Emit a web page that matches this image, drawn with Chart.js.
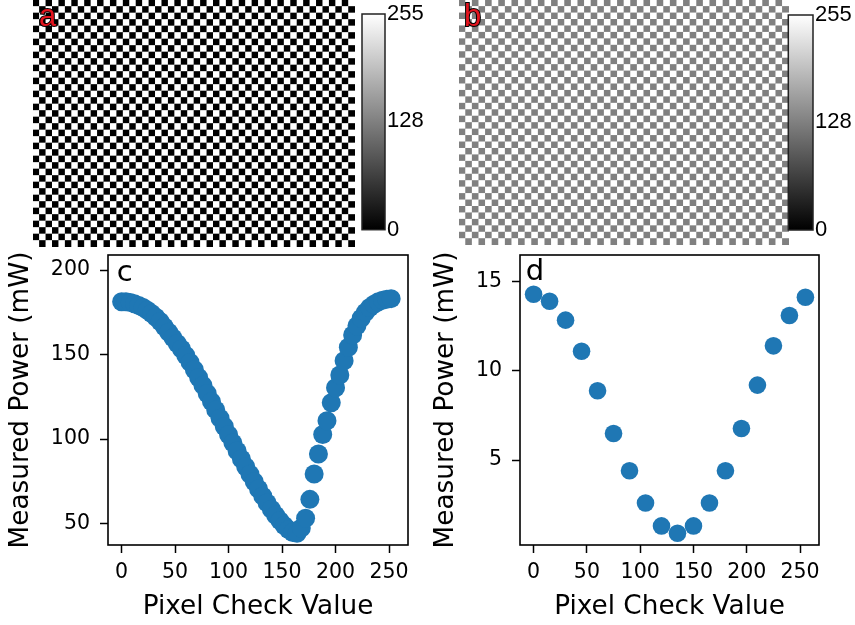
<!DOCTYPE html>
<html>
<head>
<meta charset="utf-8">
<script src="https://cdn.jsdelivr.net/npm/chart.js@4.4.1/dist/chart.umd.min.js"></script>
<style>
  html, body { margin: 0; padding: 0; background: #fff; }
  body { width: 855px; height: 625px; position: relative; overflow: hidden; }
  canvas { position: absolute; }
</style>
</head>
<body>
<canvas id="img-a" width="430" height="250" style="left:0;top:0"></canvas>
<canvas id="cbar-a" width="90" height="250" style="left:340px;top:0"></canvas>
<canvas id="img-b" width="430" height="250" style="left:430px;top:0"></canvas>
<canvas id="cbar-b" width="90" height="250" style="left:768px;top:0"></canvas>
<canvas id="chart-c" width="425" height="375" style="left:0;top:250px"></canvas>
<canvas id="chart-d" width="425" height="375" style="left:430px;top:250px"></canvas>
<script>
// Damier (motifs a et b)
const nCols = 50;
const nRows = 38;
const levelsA = [0, 255];
const levelsB = [128, 255];

// Barre de couleur
const cbarRange = [0, 255];
const cbarTicks = [0, 128, 255];

// Panneau c : balayage fin
const cX = [0, 4, 8, 12, 16, 20, 24, 28, 32, 36, 40, 44, 48, 52, 56, 60,
  64, 68, 72, 76, 80, 84, 88, 92, 96, 100, 104, 108, 112, 116, 120, 124,
  128, 132, 136, 140, 144, 148, 152, 156, 160, 164, 168, 172, 176, 180, 184, 188,
  192, 196, 200, 204, 208, 212, 216, 220, 224, 228, 232, 236, 240, 244, 248, 252];
const cY = [181.3, 181.2, 180.8, 180.0, 179.0, 177.8, 176.2, 174.3, 172.1, 169.6, 166.4, 163.2, 159.9, 156.6, 153.3, 149.5,
  145.4, 141.0, 136.5, 131.8, 127.0, 122.2, 117.3, 112.4, 107.5, 102.6, 97.8, 93.0, 88.3, 83.7, 79.2, 74.8,
  70.5, 66.3, 62.3, 58.5, 55.0, 51.8, 48.9, 46.5, 44.8, 44.3, 47.5, 53.2, 64.4, 79.4, 91.2, 102.8,
  110.9, 121.5, 130.4, 137.9, 146.4, 154.3, 161.6, 167.0, 171.5, 175.0, 177.8, 179.8, 181.2, 182.2, 182.8, 183.1];
const cYTicks = [50, 100, 150, 200];

// Panneau d : balayage grossier
const dX = [0, 15, 30, 45, 60, 75, 90, 105, 120, 135, 150, 165, 180, 195, 210, 225, 240, 255];
const dY = [14.29, 13.9, 12.84, 11.1, 8.88, 6.49, 4.4, 2.59, 1.31, 0.9, 1.31, 2.59, 4.4, 6.77, 9.2, 11.4, 13.1, 14.12];
const dYTicks = [5, 10, 15];

const xTicks = [0, 50, 100, 150, 200, 250];

const BLUE = "#1f77b4";
const MPL_FONT = '"DejaVu Sans", sans-serif';

function gray(v) {
  return `rgb(${v},${v},${v})`;
}

// Pas de marge automatique autour des axes
function noPadding(s) {
  s.paddingTop = 0;
  s.paddingBottom = 0;
  s.paddingLeft = 0;
  s.paddingRight = 0;
}

// Cadre autour de la zone de tracé
function framePlugin(color, width) {
  return {
    id: "frame",
    afterDraw(chart) {
      const a = chart.chartArea;
      const ctx = chart.ctx;
      ctx.save();
      ctx.strokeStyle = color;
      ctx.lineWidth = width;
      ctx.strokeRect(a.left, a.top, a.right - a.left, a.bottom - a.top);
      ctx.restore();
    },
  };
}

// Lettre du panneau
function letterPlugin(text, dx, dy, font, fill, stroke) {
  return {
    id: "letter",
    afterDraw(chart) {
      const a = chart.chartArea;
      const ctx = chart.ctx;
      ctx.save();
      ctx.font = font;
      ctx.textBaseline = "alphabetic";
      ctx.textAlign = "left";
      if (stroke) {
        ctx.lineWidth = 2;
        ctx.strokeStyle = stroke;
        ctx.strokeText(text, a.left + dx, a.top + dy);
      }
      ctx.fillStyle = fill;
      ctx.fillText(text, a.left + dx, a.top + dy);
      ctx.restore();
    },
  };
}

// Damier en barres empilées
function makeChecker(id, levels, letter, pad, letterDx) {
  const cols = Array.from({ length: nCols }, (_, i) => i);
  const datasets = [];
  for (let r = 0; r < nRows; r++) {
    datasets.push({
      data: cols.map(() => 1),
      backgroundColor: cols.map((c) => gray(levels[(nRows - 1 - r + c) % 2])),
      borderWidth: 0,
      categoryPercentage: 1,
      barPercentage: 1,
    });
  }
  new Chart(document.getElementById(id), {
    type: "bar",
    data: { labels: cols, datasets },
    options: {
      responsive: false,
      animation: false,
      layout: { padding: pad, autoPadding: false },
      plugins: { legend: { display: false }, tooltip: { enabled: false } },
      scales: {
        x: { display: false, stacked: true },
        y: { display: false, stacked: true, min: 0, max: nRows },
      },
    },
    plugins: [letterPlugin(letter, letterDx, 25.5, '31px "Liberation Sans", Arial', "#e3141e", "#000")],
  });
}

// Barre de couleur en niveaux de gris
function makeColorbar(id, pad) {
  new Chart(document.getElementById(id), {
    type: "bar",
    data: {
      labels: [""],
      datasets: [
        {
          data: [cbarRange],
          backgroundColor: (c) => {
            const a = c.chart.chartArea;
            if (!a) return "#888";
            const g = c.chart.ctx.createLinearGradient(0, a.bottom, 0, a.top);
            g.addColorStop(0, "#000");
            g.addColorStop(1, "#fff");
            return g;
          },
          borderWidth: 0,
          categoryPercentage: 1,
          barPercentage: 1,
        },
      ],
    },
    options: {
      responsive: false,
      animation: false,
      layout: { padding: pad, autoPadding: false },
      plugins: { legend: { display: false }, tooltip: { enabled: false } },
      scales: {
        x: { display: false },
        y: {
          position: "right",
          min: cbarRange[0],
          max: cbarRange[1],
          afterBuildTicks: (s) => {
            s.ticks = cbarTicks.map((v) => ({ value: v }));
          },
          afterFit: (s) => {
            s.width = 45;
            noPadding(s);
          },
          grid: { display: false, drawTicks: false },
          border: { display: false },
          ticks: {
            padding: 2,
            color: "#000",
            font: { family: '"Liberation Sans", Arial', size: 22 },
          },
        },
      },
    },
    plugins: [framePlugin("#222", 1.5)],
  });
}

// Nuage de points (c et d)
function makeScatter(id, xs, ys, yMin, yMax, yTicks, opts) {
  const tickGrid = {
    display: true,
    drawOnChartArea: false,
    drawTicks: true,
    tickLength: 8,
    tickColor: "#000",
    tickWidth: 1.5,
  };
  new Chart(document.getElementById(id), {
    type: "scatter",
    data: {
      datasets: [
        {
          data: xs.map((x, i) => ({ x, y: ys[i] })),
          backgroundColor: BLUE,
          borderWidth: 0,
          pointRadius: opts.radius,
          pointHoverRadius: opts.radius,
        },
      ],
    },
    options: {
      responsive: false,
      animation: false,
      layout: { padding: { left: 0, top: 5, right: opts.padRight, bottom: 0 }, autoPadding: false },
      plugins: { legend: { display: false }, tooltip: { enabled: false } },
      scales: {
        x: {
          type: "linear",
          min: -12.75,
          max: 267.75,
          afterBuildTicks: (s) => {
            s.ticks = xTicks.map((v) => ({ value: v }));
          },
          afterFit: (s) => {
            s.height = 80;
            noPadding(s);
          },
          grid: tickGrid,
          border: { display: false },
          ticks: { padding: 7.6, color: "#000", font: { family: MPL_FONT, size: 20.5 } },
          title: {
            display: true,
            text: "Pixel Check Value",
            color: "#000",
            font: { family: MPL_FONT, size: 26.3 },
            padding: { top: 0, bottom: 1.6 },
          },
        },
        y: {
          type: "linear",
          min: yMin,
          max: yMax,
          afterBuildTicks: (s) => {
            s.ticks = yTicks.map((v) => ({ value: v }));
          },
          afterFit: (s) => {
            s.width = opts.yWidth;
            noPadding(s);
          },
          grid: tickGrid,
          border: { display: false },
          ticks: { padding: 10, color: "#000", font: { family: MPL_FONT, size: 20.5 } },
          title: {
            display: true,
            text: "Measured Power (mW)",
            color: "#000",
            font: { family: MPL_FONT, size: 26.3 },
            padding: { top: opts.titlePad, bottom: 0 },
          },
        },
      },
    },
    plugins: [
      framePlugin("#000", 1.6),
      letterPlugin(opts.letter, opts.letterDx, opts.letterDy, "29px " + MPL_FONT, "#000", null),
    ],
  });
}

makeChecker("img-a", levelsA, "a", { left: 33, right: 75, top: 0, bottom: 3 }, 6);
makeColorbar("cbar-a", { left: 22, right: 0, top: 14, bottom: 20.3 });
makeChecker("img-b", levelsB, "b", { left: 29, right: 71, top: 0, bottom: 5 }, 5);
makeColorbar("cbar-b", { left: 20.3, right: 0, top: 15, bottom: 20 });

makeScatter("chart-c", cX, cY, 37.4, 208.9, cYTicks, {
  radius: 9.5,
  padRight: 17,
  yWidth: 108,
  titlePad: 5,
  letter: "c",
  letterDx: 8.7,
  letterDy: 25.7,
});
makeScatter("chart-d", dX, dY, 0.24, 16.49, dYTicks, {
  radius: 8.8,
  padRight: 36,
  yWidth: 90,
  titlePad: 0,
  letter: "d",
  letterDx: 5.7,
  letterDy: 25,
});
</script>
</body>
</html>
